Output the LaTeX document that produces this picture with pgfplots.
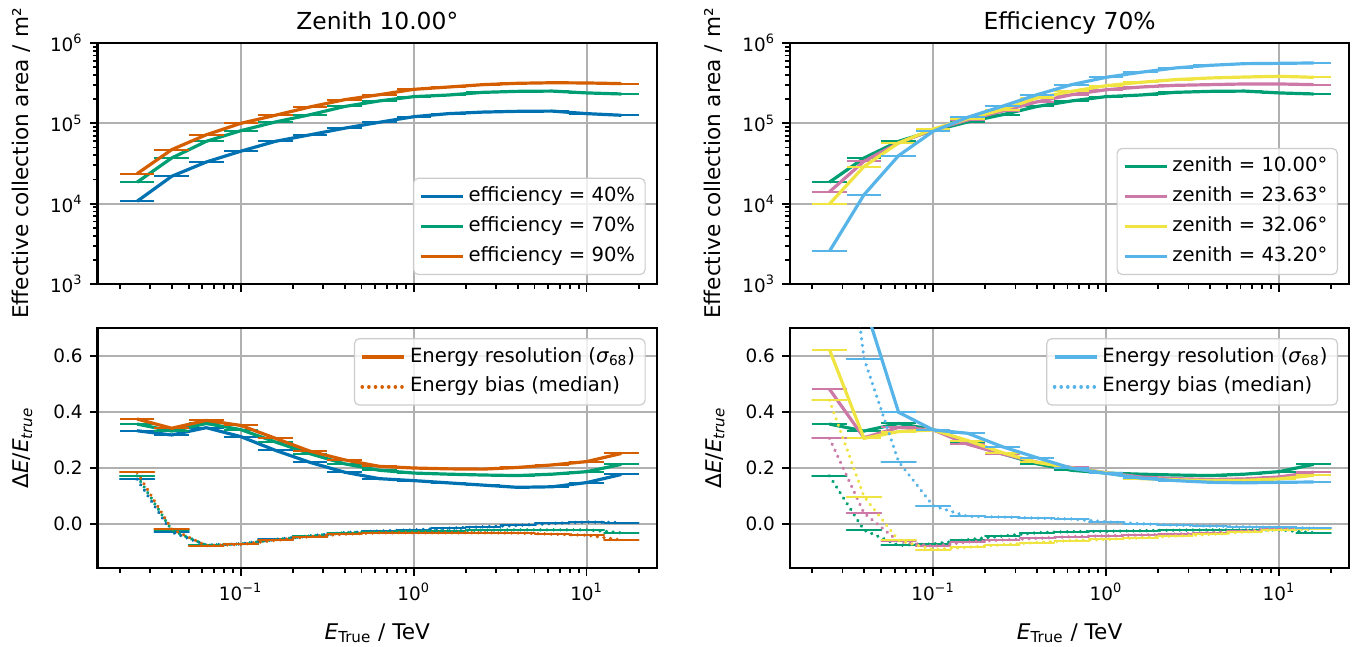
\documentclass[border=0pt]{standalone}
\usepackage{fontspec}
\setmainfont{DejaVu Sans}
\usepackage{pgfplots}
\usepackage{pgfplotstable}
\pgfplotsset{compat=1.18}

\definecolor{cbblue}{HTML}{0072B2}
\definecolor{cbgreen}{HTML}{009E73}
\definecolor{cborange}{HTML}{D55E00}
\definecolor{cbpink}{HTML}{CC79A7}
\definecolor{cbyellow}{HTML}{F0E442}
\definecolor{cbsky}{HTML}{56B4E9}
\definecolor{gridgray}{HTML}{B0B0B0}
\definecolor{legframe}{HTML}{CCCCCC}

% effective area, zenith 10 deg, efficiencies 40/70/90 %
\pgfplotstableread{
x xm xp a40 a70 a90
0.025179 0.005178 0.006519 1.07e4 1.85e4 2.36e4
0.039905 0.008207 0.010332 2.19e4 3.70e4 4.70e4
0.063246 0.013008 0.016376 3.30e4 5.97e4 7.20e4
0.100237 0.020616 0.025954 4.50e4 8.10e4 1.00e5
0.158866 0.032674 0.041135 5.97e4 1.04e5 1.26e5
0.251785 0.051785 0.065194 7.20e4 1.28e5 1.60e5
0.399052 0.082073 0.103324 8.70e4 1.62e5 1.97e5
0.632456 0.130079 0.163760 1.03e5 1.90e5 2.27e5
1.002374 0.206158 0.259536 1.21e5 2.15e5 2.65e5
1.588656 0.326742 0.411344 1.32e5 2.25e5 2.83e5
2.517851 0.517850 0.651944 1.38e5 2.43e5 3.03e5
3.990525 0.820731 1.033244 1.41e5 2.50e5 3.15e5
6.324555 1.300793 1.637600 1.42e5 2.52e5 3.20e5
10.023745 2.061595 2.595371 1.32e5 2.39e5 3.18e5
15.886565 3.267422 4.113393 1.26e5 2.32e5 3.12e5
}\tabLT

% effective area, efficiency 70 %, zenith 10.00/23.63/32.06/43.20 deg
\pgfplotstableread{
x xm xp z10 z23 z32 z43
0.025179 0.005178 0.006519 1.85e4 1.40e4 9.90e3 2.55e3
0.039905 0.008207 0.010332 3.70e4 3.37e4 2.90e4 1.29e4
0.063246 0.013008 0.016376 5.97e4 5.70e4 5.70e4 3.96e4
0.100237 0.020616 0.025954 8.10e4 8.30e4 8.50e4 7.95e4
0.158866 0.032674 0.041135 1.04e5 1.10e5 1.14e5 1.19e5
0.251785 0.051785 0.065194 1.28e5 1.42e5 1.48e5 1.63e5
0.399052 0.082073 0.103324 1.62e5 1.85e5 2.07e5 2.27e5
0.632456 0.130079 0.163760 1.90e5 2.27e5 2.50e5 3.03e5
1.002374 0.206158 0.259536 2.15e5 2.62e5 2.94e5 3.74e5
1.588656 0.326742 0.411344 2.25e5 2.83e5 3.24e5 4.32e5
2.517851 0.517850 0.651944 2.43e5 2.97e5 3.50e5 4.89e5
3.990525 0.820731 1.033244 2.50e5 3.03e5 3.67e5 5.27e5
6.324555 1.300793 1.637600 2.52e5 3.09e5 3.77e5 5.53e5
10.023745 2.061595 2.595371 2.39e5 3.09e5 3.85e5 5.58e5
15.886565 3.267422 4.113393 2.32e5 3.03e5 3.74e5 5.64e5
}\tabRT

% resolution (r) and bias (b), zenith 10 deg
\pgfplotstableread{
x xm xp r40 r70 r90 b40 b70 b90
0.025179 0.005178 0.006519 0.333 0.357 0.375 0.160 0.172 0.184
0.039905 0.008207 0.010332 0.318 0.332 0.342 -0.029 -0.022 -0.018
0.063246 0.013008 0.016376 0.344 0.359 0.370 -0.075 -0.076 -0.077
0.100237 0.020616 0.025954 0.312 0.337 0.352 -0.071 -0.071 -0.073
0.158866 0.032674 0.041135 0.263 0.293 0.306 -0.055 -0.056 -0.058
0.251785 0.051785 0.065194 0.220 0.251 0.260 -0.042 -0.043 -0.045
0.399052 0.082073 0.103324 0.185 0.215 0.229 -0.031 -0.031 -0.036
0.632456 0.130079 0.163760 0.162 0.192 0.206 -0.025 -0.027 -0.031
1.002374 0.206158 0.259536 0.155 0.182 0.200 -0.021 -0.026 -0.031
1.588656 0.326742 0.411344 0.147 0.178 0.197 -0.015 -0.024 -0.031
2.517851 0.517850 0.651944 0.139 0.175 0.196 -0.010 -0.022 -0.031
3.990525 0.820731 1.033244 0.131 0.173 0.202 -0.005 -0.021 -0.032
6.324555 1.300793 1.637600 0.133 0.178 0.211 0.002 -0.021 -0.036
10.023745 2.061595 2.595371 0.148 0.187 0.223 0.007 -0.021 -0.040
15.886565 3.267422 4.113393 0.177 0.213 0.252 0.005 -0.031 -0.057
}\tabLB

% resolution (r) and bias (b), efficiency 70 %
\pgfplotstableread{
x xm xp r10 r23 r32 r43 b10 b23 b32 b43
0.025179 0.005178 0.006519 0.357 0.482 0.623 1.500 0.172 0.306 0.442 1.600
0.039905 0.008207 0.010332 0.332 0.308 0.306 0.790 -0.022 0.039 0.098 0.591
0.063246 0.013008 0.016376 0.359 0.345 0.330 0.399 -0.076 -0.062 -0.058 0.223
0.100237 0.020616 0.025954 0.337 0.336 0.336 0.336 -0.071 -0.079 -0.091 0.065
0.158866 0.032674 0.041135 0.293 0.285 0.298 0.324 -0.056 -0.064 -0.083 0.027
0.251785 0.051785 0.065194 0.251 0.250 0.255 0.276 -0.043 -0.057 -0.074 0.025
0.399052 0.082073 0.103324 0.215 0.221 0.220 0.237 -0.031 -0.051 -0.066 0.021
0.632456 0.130079 0.163760 0.192 0.202 0.200 0.199 -0.027 -0.045 -0.059 0.018
1.002374 0.206158 0.259536 0.182 0.183 0.183 0.181 -0.026 -0.042 -0.055 0.008
1.588656 0.326742 0.411344 0.178 0.168 0.162 0.164 -0.024 -0.039 -0.049 0.001
2.517851 0.517850 0.651944 0.175 0.162 0.158 0.155 -0.022 -0.036 -0.043 -0.004
3.990525 0.820731 1.033244 0.173 0.159 0.155 0.149 -0.021 -0.031 -0.037 -0.007
6.324555 1.300793 1.637600 0.178 0.161 0.156 0.147 -0.021 -0.024 -0.028 -0.010
10.023745 2.061595 2.595371 0.187 0.168 0.161 0.149 -0.021 -0.018 -0.021 -0.012
15.886565 3.267422 4.113393 0.213 0.185 0.174 0.150 -0.031 -0.015 -0.019 -0.015
}\tabRB

% options shared by all four axes
\pgfplotsset{
  scale only axis, width=279.6pt,
  xmin=0.0149, xmax=25.5,
  axis line style={line width=1.2pt},
  tick align=outside, tick pos=left,
  major tick length=4pt, minor tick length=2.3pt,
  tick style={black, line width=0.9pt},
  grid=major, major grid style={gridgray, line width=1pt},
  xtick={0.1,1,10},
  minor xtick={0.02,0.03,0.04,0.05,0.06,0.07,0.08,0.09,0.2,0.3,0.4,0.5,0.6,0.7,0.8,0.9,2,3,4,5,6,7,8,9,20},
  tick label style={font=\fontsize{9.2}{11}\selectfont},
  label style={font=\fontsize{10.8}{13}\selectfont},
  title style={at={(rel axis cs:0.5,1)}, anchor=base, yshift=0.9pt, font=\fontsize{11.7}{14}\selectfont},
  legend cell align=left,
  legend image code/.code={\draw[#1] (0pt,0pt) -- (21pt,0pt);},
  legend style={font=\fontsize{9.8}{11.8}\selectfont, draw=legframe, line width=0.6pt,
    rounded corners=2.5pt, fill=white, fill opacity=0.8, text opacity=1,
    inner xsep=3pt, inner ysep=3.2pt, row sep=3pt,
    nodes={text height=7.3pt, text depth=2.2pt, inner ysep=1.2pt}},
}

\begin{document}
\begin{tikzpicture}
\useasboundingbox (0,0) rectangle (676.5pt,323.5pt);

% ---------- top left ----------
\begin{axis}[at={(48.85pt,181.5pt)}, anchor=south west, height=120.5pt,
    xmode=log, ymode=log, ymin=1e3, ymax=1e6,
    ytick={1e3,1e4,1e5,1e6},
    yticklabels={10\textsuperscript{3},10\textsuperscript{4},10\textsuperscript{5},10\textsuperscript{6}},
    minor ytick={2e3,3e3,4e3,5e3,6e3,7e3,8e3,9e3,2e4,3e4,4e4,5e4,6e4,7e4,8e4,9e4,2e5,3e5,4e5,5e5,6e5,7e5,8e5,9e5},
    xticklabels={},
    ylabel={Effective collection area / m²},
    ylabel style={at={(rel axis cs:-0.137,0.5)}, anchor=center},
    legend style={at={(0.98,0.037)}, anchor=south east},
    title={Zenith 10.00°}]
\addplot[cbblue, line width=1.6pt, forget plot, error bars/.cd, x dir=both, x explicit, error mark=none, error bar style={solid, line width=1pt}] table[x=x, y=a40, x error minus=xm, x error plus=xp] {\tabLT};
\addplot[cbgreen, line width=1.6pt, forget plot, error bars/.cd, x dir=both, x explicit, error mark=none, error bar style={solid, line width=1pt}] table[x=x, y=a70, x error minus=xm, x error plus=xp] {\tabLT};
\addplot[cborange, line width=1.6pt, forget plot, error bars/.cd, x dir=both, x explicit, error mark=none, error bar style={solid, line width=1pt}] table[x=x, y=a90, x error minus=xm, x error plus=xp] {\tabLT};
\addlegendimage{cbblue, line width=1.6pt}
\addlegendentry{efficiency = 40\%}
\addlegendimage{cbgreen, line width=1.6pt}
\addlegendentry{efficiency = 70\%}
\addlegendimage{cborange, line width=1.6pt}
\addlegendentry{efficiency = 90\%}
\end{axis}

% ---------- top right ----------
\begin{axis}[at={(395pt,181.5pt)}, anchor=south west, height=120.5pt,
    xmode=log, ymode=log, ymin=1e3, ymax=1e6,
    ytick={1e3,1e4,1e5,1e6},
    yticklabels={10\textsuperscript{3},10\textsuperscript{4},10\textsuperscript{5},10\textsuperscript{6}},
    minor ytick={2e3,3e3,4e3,5e3,6e3,7e3,8e3,9e3,2e4,3e4,4e4,5e4,6e4,7e4,8e4,9e4,2e5,3e5,4e5,5e5,6e5,7e5,8e5,9e5},
    xticklabels={},
    ylabel={Effective collection area / m²},
    ylabel style={at={(rel axis cs:-0.137,0.5)}, anchor=center},
    legend style={at={(0.98,0.037)}, anchor=south east},
    title={Efficiency 70\%}]
\addplot[cbgreen, line width=1.6pt, forget plot, error bars/.cd, x dir=both, x explicit, error mark=none, error bar style={solid, line width=1pt}] table[x=x, y=z10, x error minus=xm, x error plus=xp] {\tabRT};
\addplot[cbpink, line width=1.6pt, forget plot, error bars/.cd, x dir=both, x explicit, error mark=none, error bar style={solid, line width=1pt}] table[x=x, y=z23, x error minus=xm, x error plus=xp] {\tabRT};
\addplot[cbyellow, line width=1.6pt, forget plot, error bars/.cd, x dir=both, x explicit, error mark=none, error bar style={solid, line width=1pt}] table[x=x, y=z32, x error minus=xm, x error plus=xp] {\tabRT};
\addplot[cbsky, line width=1.6pt, forget plot, error bars/.cd, x dir=both, x explicit, error mark=none, error bar style={solid, line width=1pt}] table[x=x, y=z43, x error minus=xm, x error plus=xp] {\tabRT};
\addlegendimage{cbgreen, line width=1.6pt}
\addlegendentry{zenith = 10.00°}
\addlegendimage{cbpink, line width=1.6pt}
\addlegendentry{zenith = 23.63°}
\addlegendimage{cbyellow, line width=1.6pt}
\addlegendentry{zenith = 32.06°}
\addlegendimage{cbsky, line width=1.6pt}
\addlegendentry{zenith = 43.20°}
\end{axis}

% ---------- bottom left ----------
\begin{axis}[at={(48.85pt,39.5pt)}, anchor=south west, height=120pt,
    xmode=log, ymin=-0.157, ymax=0.7,
    ytick={0,0.2,0.4,0.6}, yticklabels={0.0,0.2,0.4,0.6},
    xticklabels={10\textsuperscript{−1},10\textsuperscript{0},10\textsuperscript{1}},
    xlabel={\textit{E}\textsubscript{True} / TeV},
    xlabel style={at={(rel axis cs:0.5,-0.297)}, anchor=base},
    ylabel={Δ\textit{E}/\textit{E}\textsubscript{\textit{true}}},
    ylabel style={at={(rel axis cs:-0.134,0.5)}, anchor=center},
    legend style={at={(0.98,0.958)}, anchor=north east}]
\addplot[cbblue, line width=1.6pt, forget plot, error bars/.cd, x dir=both, x explicit, error mark=none, error bar style={solid, line width=1pt}] table[x=x, y=r40, x error minus=xm, x error plus=xp] {\tabLB};
\addplot[cbblue, line width=1.8pt, dash pattern=on 0.01pt off 3.3pt, line cap=round, forget plot, error bars/.cd, x dir=both, x explicit, error mark=none, error bar style={solid, line width=1pt}] table[x=x, y=b40, x error minus=xm, x error plus=xp] {\tabLB};
\addplot[cbgreen, line width=1.6pt, forget plot, error bars/.cd, x dir=both, x explicit, error mark=none, error bar style={solid, line width=1pt}] table[x=x, y=r70, x error minus=xm, x error plus=xp] {\tabLB};
\addplot[cbgreen, line width=1.8pt, dash pattern=on 0.01pt off 3.3pt, line cap=round, forget plot, error bars/.cd, x dir=both, x explicit, error mark=none, error bar style={solid, line width=1pt}] table[x=x, y=b70, x error minus=xm, x error plus=xp] {\tabLB};
\addplot[cborange, line width=1.6pt, forget plot, error bars/.cd, x dir=both, x explicit, error mark=none, error bar style={solid, line width=1pt}] table[x=x, y=r90, x error minus=xm, x error plus=xp] {\tabLB};
\addplot[cborange, line width=1.8pt, dash pattern=on 0.01pt off 3.3pt, line cap=round, forget plot, error bars/.cd, x dir=both, x explicit, error mark=none, error bar style={solid, line width=1pt}] table[x=x, y=b90, x error minus=xm, x error plus=xp] {\tabLB};
\addlegendimage{cborange, line width=1.6pt}
\addlegendentry{Energy resolution (\textit{σ}\textsubscript{68})}
\addlegendimage{cborange, line width=1.8pt, dash pattern=on 0.01pt off 3.3pt, line cap=round}
\addlegendentry{Energy bias (median)}
\end{axis}

% ---------- bottom right ----------
\begin{axis}[at={(395pt,39.5pt)}, anchor=south west, height=120pt,
    xmode=log, ymin=-0.157, ymax=0.7,
    ytick={0,0.2,0.4,0.6}, yticklabels={0.0,0.2,0.4,0.6},
    xticklabels={10\textsuperscript{−1},10\textsuperscript{0},10\textsuperscript{1}},
    xlabel={\textit{E}\textsubscript{True} / TeV},
    xlabel style={at={(rel axis cs:0.5,-0.297)}, anchor=base},
    ylabel={Δ\textit{E}/\textit{E}\textsubscript{\textit{true}}},
    ylabel style={at={(rel axis cs:-0.134,0.5)}, anchor=center},
    legend style={at={(0.98,0.958)}, anchor=north east}]
\addplot[cbgreen, line width=1.6pt, forget plot, error bars/.cd, x dir=both, x explicit, error mark=none, error bar style={solid, line width=1pt}] table[x=x, y=r10, x error minus=xm, x error plus=xp] {\tabRB};
\addplot[cbgreen, line width=1.8pt, dash pattern=on 0.01pt off 3.3pt, line cap=round, forget plot, error bars/.cd, x dir=both, x explicit, error mark=none, error bar style={solid, line width=1pt}] table[x=x, y=b10, x error minus=xm, x error plus=xp] {\tabRB};
\addplot[cbpink, line width=1.6pt, forget plot, error bars/.cd, x dir=both, x explicit, error mark=none, error bar style={solid, line width=1pt}] table[x=x, y=r23, x error minus=xm, x error plus=xp] {\tabRB};
\addplot[cbpink, line width=1.8pt, dash pattern=on 0.01pt off 3.3pt, line cap=round, forget plot, error bars/.cd, x dir=both, x explicit, error mark=none, error bar style={solid, line width=1pt}] table[x=x, y=b23, x error minus=xm, x error plus=xp] {\tabRB};
\addplot[cbyellow, line width=1.6pt, forget plot, error bars/.cd, x dir=both, x explicit, error mark=none, error bar style={solid, line width=1pt}] table[x=x, y=r32, x error minus=xm, x error plus=xp] {\tabRB};
\addplot[cbyellow, line width=1.8pt, dash pattern=on 0.01pt off 3.3pt, line cap=round, forget plot, error bars/.cd, x dir=both, x explicit, error mark=none, error bar style={solid, line width=1pt}] table[x=x, y=b32, x error minus=xm, x error plus=xp] {\tabRB};
\addplot[cbsky, line width=1.6pt, forget plot, error bars/.cd, x dir=both, x explicit, error mark=none, error bar style={solid, line width=1pt}] table[x=x, y=r43, x error minus=xm, x error plus=xp] {\tabRB};
\addplot[cbsky, line width=1.8pt, dash pattern=on 0.01pt off 3.3pt, line cap=round, forget plot, error bars/.cd, x dir=both, x explicit, error mark=none, error bar style={solid, line width=1pt}] table[x=x, y=b43, x error minus=xm, x error plus=xp] {\tabRB};
\addlegendimage{cbsky, line width=1.6pt}
\addlegendentry{Energy resolution (\textit{σ}\textsubscript{68})}
\addlegendimage{cbsky, line width=1.8pt, dash pattern=on 0.01pt off 3.3pt, line cap=round}
\addlegendentry{Energy bias (median)}
\end{axis}
\end{tikzpicture}
\end{document}
